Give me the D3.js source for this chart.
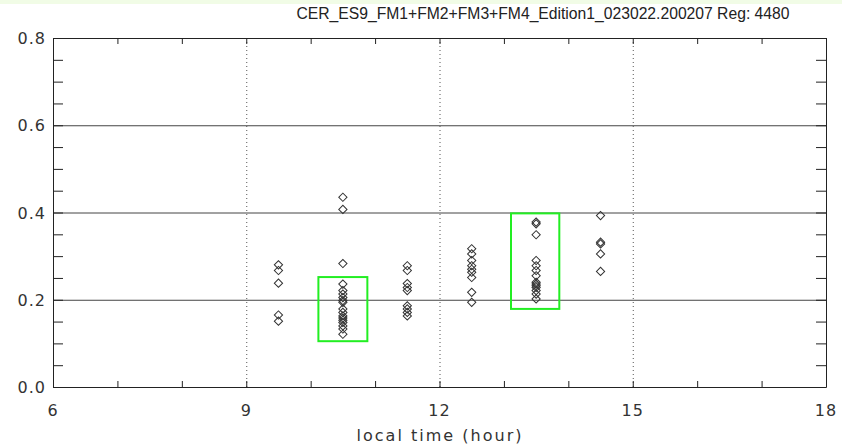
<!DOCTYPE html>
<html>
<head>
<meta charset="utf-8">
<script src="https://cdn.jsdelivr.net/npm/d3@7"></script>
<style>
  body { margin: 0; background: #fff; }
  svg text { font-family: 'Liberation Sans', Arial, sans-serif; fill: #222; }
  svg text.lbl { font-family: 'DejaVu Sans', sans-serif; letter-spacing: 1px; fill: #333; }
</style>
</head>
<body>
<div id="chart"></div>
<script>
const title = 'CER_ES9_FM1+FM2+FM3+FM4_Edition1_023022.200207  Reg: 4480'
const xLabel = 'local time (hour)'
const xTicks = [6, 9, 12, 15, 18]
const yTicks = [0.0, 0.2, 0.4, 0.6, 0.8]
const vGrid = [9, 12, 15]
const hGrid = [0.2, 0.4, 0.6]

const hours = [9.5, 10.5, 11.5, 12.5, 13.5, 14.5]
const values = [
  [0.280, 0.267, 0.238, 0.165, 0.151],
  [0.435, 0.407, 0.283, 0.236, 0.221, 0.213, 0.205, 0.198, 0.194, 0.179, 0.171, 0.163, 0.158, 0.153, 0.148, 0.140, 0.133, 0.121],
  [0.278, 0.267, 0.237, 0.228, 0.221, 0.186, 0.179, 0.171, 0.163],
  [0.317, 0.305, 0.290, 0.278, 0.270, 0.263, 0.251, 0.217, 0.194],
  [0.378, 0.374, 0.349, 0.290, 0.278, 0.267, 0.255, 0.240, 0.236, 0.232, 0.228, 0.221, 0.213, 0.202],
  [0.393, 0.332, 0.328, 0.305, 0.265]
]

// highlighted boxes
const boxX0 = [10.12, 13.11]
const boxX1 = [10.88, 13.86]
const boxY0 = [0.105, 0.179]
const boxY1 = [0.252, 0.398]

const width = 842
const height = 448
const plotLeft = 53
const plotRight = 826
const plotTop = 38
const plotBottom = 387

const x = d3.scaleLinear().domain([6, 18]).range([plotLeft, plotRight])
const y = d3.scaleLinear().domain([0, 0.8]).range([plotBottom, plotTop])

const svg = d3.select('#chart')
  .append('svg')
  .attr('width', width)
  .attr('height', height)

svg.append('rect')
  .attr('width', width)
  .attr('height', 4)
  .attr('fill', '#f1fce6')

svg.append('text')
  .attr('x', 543)
  .attr('y', 19)
  .attr('text-anchor', 'middle')
  .attr('font-size', 16)
  .attr('textLength', 493)
  .attr('lengthAdjust', 'spacingAndGlyphs')
  .text(title)

// grid lines
svg.append('g')
  .selectAll('line')
  .data(hGrid)
  .enter()
  .append('line')
  .attr('x1', plotLeft)
  .attr('x2', plotRight)
  .attr('y1', d => y(d) + 0.5)
  .attr('y2', d => y(d) + 0.5)
  .attr('stroke', '#444')

svg.append('g')
  .selectAll('line')
  .data(vGrid)
  .enter()
  .append('line')
  .attr('x1', d => x(d) + 0.5)
  .attr('x2', d => x(d) + 0.5)
  .attr('y1', plotTop)
  .attr('y2', plotBottom)
  .attr('stroke', '#555')
  .attr('stroke-dasharray', '1,3')

// axes with inward ticks on all four sides
const xMinor = d3.range(6, 18.01, 1)
const yMinor = d3.range(0, 0.801, 0.05)

const axisB = d3.axisBottom(x).tickValues(xMinor).tickSize(-6).tickFormat('').tickSizeOuter(0)
const axisT = d3.axisTop(x).tickValues(xMinor).tickSize(-6).tickFormat('').tickSizeOuter(0)
const axisL = d3.axisLeft(y).tickValues(yMinor).tickSize(-10).tickFormat('').tickSizeOuter(0)
const axisR = d3.axisRight(y).tickValues(yMinor).tickSize(-10).tickFormat('').tickSizeOuter(0)

svg.append('g').attr('transform', `translate(0,${plotBottom})`).call(axisB)
svg.append('g').attr('transform', `translate(0,${plotTop})`).call(axisT)
svg.append('g').attr('transform', `translate(${plotLeft},0)`).call(axisL)
svg.append('g').attr('transform', `translate(${plotRight},0)`).call(axisR)
svg.selectAll('.domain').attr('stroke', '#222')
svg.selectAll('.tick line').attr('stroke', '#222')

// tick labels
svg.append('g')
  .selectAll('text')
  .data(xTicks)
  .enter()
  .append('text')
  .classed('lbl', true)
  .attr('x', d => x(d))
  .attr('y', 416)
  .attr('text-anchor', 'middle')
  .attr('font-size', 16)
  .text(d3.format('d'))

svg.append('g')
  .selectAll('text')
  .data(yTicks)
  .enter()
  .append('text')
  .classed('lbl', true)
  .attr('x', 46)
  .attr('y', d => y(d) + 6)
  .attr('text-anchor', 'end')
  .attr('font-size', 16)
  .text(d3.format('.1f'))

svg.append('text')
  .classed('lbl', true)
  .attr('x', (plotLeft + plotRight) / 2)
  .attr('y', 441)
  .attr('text-anchor', 'middle')
  .attr('font-size', 16)
  .attr('textLength', 166)
  .text(xLabel)

// points
const diamond = d3.symbol().type(d3.symbolSquare).size(34)
const points = hours.flatMap((h, i) => values[i].map(v => ({ h, v })))

svg.append('g')
  .selectAll('path')
  .data(points)
  .enter()
  .append('path')
  .attr('d', diamond)
  .attr('transform', d => `translate(${x(d.h)},${y(d.v)}) rotate(45)`)
  .attr('fill', 'none')
  .attr('stroke', '#333')
  .attr('stroke-width', 1)

svg.append('g')
  .selectAll('rect')
  .data(boxX0)
  .enter()
  .append('rect')
  .attr('x', (d, i) => x(boxX0[i]))
  .attr('y', (d, i) => y(boxY1[i]))
  .attr('width', (d, i) => x(boxX1[i]) - x(boxX0[i]))
  .attr('height', (d, i) => y(boxY0[i]) - y(boxY1[i]))
  .attr('fill', 'none')
  .attr('stroke', '#22ee22')
  .attr('stroke-width', 2)
</script>
</body>
</html>
